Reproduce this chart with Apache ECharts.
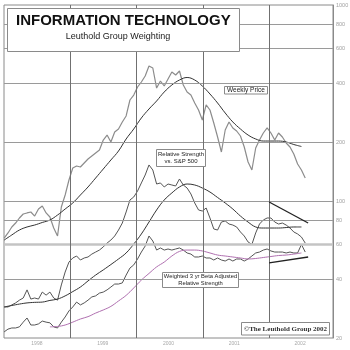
<!DOCTYPE html>
<html><head><meta charset="utf-8">
<script src="https://cdn.jsdelivr.net/npm/echarts@6/dist/echarts.min.js"></script>
<style>html,body{margin:0;padding:0;background:#fff}#c{width:350px;height:350px}</style>
</head><body><div id="c"></div>
<script>
// ---- axis definitions ----
const yearLabels = ['1998', '1999', '2000', '2001', '2002'];
const yearLines = ['1999-01-01', '2000-01-01', '2001-01-01', '2002-01-01'];
const yTickLabels = [1000, 800, 600, 400, 200, 100, 80, 60, 40, 20];
const yGridLines = [800, 600, 400, 200, 100, 80, 40];
const yHeavyLine = [60];

// ---- sampling of the weekly series (every 3 weeks) ----
const weeklyStart = '1998-01-02';
const weeklyStepDays = 21;
// ---- sampling of the moving averages (every 6 weeks) ----
const avgStart = '1998-01-02';
const avgStepDays = 42;

// Weekly price (close)
const priceValues = [64.7, 68.7, 73.7, 77.2, 81.9, 85.8, 86.9, 87.9, 83.8, 91.0,
  94.3, 86.9, 82.9, 72.8, 66.3, 93.2, 107.3, 128.0, 147.4, 150.9,
  149.1, 156.3, 163.8, 169.7, 175.8, 182.0, 204.7, 217.1, 200.0, 224.9,
  233.0, 253.0, 271.5, 327.6, 347.3, 381.6, 404.7, 434.3, 488.4, 477.1,
  377.1, 409.5, 386.1, 419.2, 455.2, 439.4, 460.6, 390.7, 359.8, 347.3,
  316.2, 291.3, 259.0, 309.0, 291.3, 250.0, 212.1, 177.8, 230.3, 253.0,
  235.8, 227.6, 214.6, 188.6, 158.1, 143.9, 186.4, 204.7, 222.3, 235.8,
  222.3, 204.7, 222.3, 212.1, 197.6, 188.6, 173.7, 154.5, 143.9, 131.0];
// 40-week average of price
const priceAvg = [63.2, 67.1, 71.1, 73.7, 75.4, 77.7, 80.0, 84.8, 91.0, 97.7,
  107.3, 117.9, 131.0, 145.6, 161.9, 179.9, 207.2, 233.0, 265.2, 294.7,
  323.8, 359.8, 390.7, 414.3, 426.7, 414.3, 386.1, 351.5, 316.2, 281.2,
  253.0, 233.0, 217.1, 207.2, 202.3, 202.3, 202.3, 200.0, 194.2, 189.7];

// Relative strength vs. S&P 500
const relStrength = [28.8, 28.8, 29.5, 30.2, 31.2, 32.0, 35.2, 31.6, 32.0, 31.6,
  34.3, 33.1, 34.3, 32.0, 31.2, 37.3, 43.4, 48.8, 51.2, 52.4,
  50.0, 51.2, 51.8, 53.6, 54.9, 56.2, 58.3, 61.0, 63.2, 66.3,
  71.1, 77.2, 87.9, 101.2, 104.8, 112.4, 123.6, 135.7, 152.7, 143.9,
  122.1, 123.6, 117.9, 122.1, 120.7, 119.3, 129.5, 120.7, 116.5, 108.6,
  97.7, 90.0, 88.9, 92.1, 81.9, 72.0, 71.1, 78.1, 79.1, 76.3,
  75.4, 73.7, 69.5, 66.3, 61.8, 60.0, 68.7, 76.3, 80.0, 81.9,
  81.9, 78.1, 76.3, 77.2, 75.4, 72.8, 69.5, 67.9, 65.5, 61.0];
const relStrengthAvg = [28.8, 29.3, 29.8, 30.2, 30.4, 30.5, 31.1, 31.6, 32.8, 34.5,
  36.4, 39.1, 41.9, 44.5, 47.4, 50.6, 54.3, 60.3, 67.9, 78.1,
  90.0, 101.2, 109.9, 117.9, 122.1, 120.7, 116.5, 111.1, 104.2, 97.7,
  91.0, 83.8, 78.1, 73.7, 72.8, 72.8, 72.8, 73.2, 73.7, 73.7];

// Weighted 3 yr beta adjusted relative strength
const betaRelStrength = [21.5, 22.2, 22.5, 22.5, 22.8, 24.1, 25.3, 23.3, 23.3, 23.6,
  24.4, 24.1, 23.9, 22.8, 22.5, 24.1, 25.6, 27.5, 28.8, 30.5,
  29.5, 30.2, 31.2, 32.4, 32.8, 33.9, 34.3, 35.2, 36.4, 37.7,
  37.7, 38.2, 41.9, 45.5, 47.2, 50.6, 54.9, 58.9, 66.3, 62.5,
  56.2, 57.6, 56.2, 56.9, 56.2, 56.9, 57.6, 56.2, 54.3, 53.6,
  51.8, 51.8, 52.4, 51.2, 51.2, 50.0, 51.2, 50.0, 49.4, 50.6,
  49.4, 50.6, 50.6, 49.4, 50.6, 52.4, 54.3, 54.9, 56.2, 56.9,
  55.6, 54.9, 54.9, 54.9, 54.3, 54.9, 54.3, 54.3, 60.0, 54.9];
const betaRelStrengthAvg = [null, null, null, null, null, null, 22.8, 22.9, 23.3, 24.1,
  25.0, 25.7, 26.8, 27.8, 29.0, 30.9, 33.0, 36.0, 39.5, 42.7,
  46.1, 48.8, 52.4, 55.3, 56.2, 56.2, 55.6, 54.3, 53.0, 52.4,
  51.8, 51.2, 50.6, 50.9, 51.5, 52.1, 52.7, 53.0, 53.6, 54.3];

// Trend lines drawn in 2002
const trendUpperDates = ['2002-01-01', '2002-08-04'];
const trendUpperValues = [98.8, 77.2];
const trendLowerDates = ['2002-01-01', '2002-08-04'];
const trendLowerValues = [48.3, 51.8];

// ---- build ----
const DAY = 86400000;
const t = s => Date.parse(s + 'T00:00:00Z');
const toSeries = (start, step, vals) => vals.map((v, i) => [t(start) + i * step * DAY, v]);
const pairs = (ds, vs) => ds.map((d, i) => [t(d), vs[i]]);

const chart = echarts.init(document.getElementById('c'), null, {renderer: 'canvas'});

const gridMarks = [];
yGridLines.forEach(v => gridMarks.push({yAxis: v, lineStyle: {color: '#9a9a9a', width: 1, type: 'solid'}}));
yHeavyLine.forEach(v => gridMarks.push({yAxis: v, lineStyle: {color: '#c4c4c4', width: 2.5, type: 'solid'}}));
yearLines.forEach(d => gridMarks.push({xAxis: t(d), lineStyle: {color: '#707070', width: 1, type: 'solid'}}));
const labelMarks = yTickLabels.map(v => ({
  yAxis: v,
  label: {show: true, position: 'end', distance: 3, formatter: String(v), color: '#a0a0a0', fontSize: 5.5, fontFamily: 'Liberation Sans'}
}));

const FONT = '"Liberation Sans", Arial, sans-serif';
function box(x, y, w, h) {
  return {type: 'rect', z: 100, shape: {x: x, y: y, width: w, height: h}, style: {fill: '#fff', stroke: '#8a8a8a', lineWidth: 1}};
}
function txt(x, y, s, font, fill, align) {
  return {type: 'text', z: 101, x: x, y: y, style: {text: s, font: font, fill: fill || '#222',
    align: align || 'center', textAlign: align || 'center', verticalAlign: 'middle', textVerticalAlign: 'middle'}};
}

chart.setOption({
  animation: false,
  backgroundColor: '#fff',
  grid: {left: 4, right: 17, top: 5, bottom: 12, show: true, borderColor: '#8a8a8a', borderWidth: 1, backgroundColor: 'transparent'},
  xAxis: [
    {type: 'time', min: t('1998-01-01'), max: t('2002-12-19'), show: false},
    {type: 'category', data: yearLabels, boundaryGap: true, position: 'bottom',
      axisLine: {show: false}, axisTick: {show: false}, splitLine: {show: false},
      axisLabel: {fontSize: 5, color: '#a8a8a8', margin: 3, fontFamily: 'Liberation Sans'}}
  ],
  yAxis: {type: 'log', logBase: 10, min: 20, max: 1000, position: 'right',
    axisLine: {show: true, lineStyle: {color: '#8a8a8a'}}, axisTick: {show: false},
    axisLabel: {show: false}, splitLine: {show: false}, minorSplitLine: {show: false}},
  series: [
    {type: 'line', name: 'grid', data: [], silent: true,
      markLine: {silent: true, symbol: 'none', animation: false, label: {show: false}, data: gridMarks}},
    {type: 'line', name: 'ticks', data: [], silent: true,
      markLine: {silent: true, symbol: 'none', animation: false,
        lineStyle: {color: 'rgba(255,255,255,0)', width: 1, type: 'solid'}, data: labelMarks}},
    {type: 'line', name: 'Weekly Price', data: toSeries(weeklyStart, weeklyStepDays, priceValues),
      symbol: 'none', lineStyle: {color: '#8c8c8c', width: 1.2}, z: 2},
    {type: 'line', name: 'Price Avg', data: toSeries(avgStart, avgStepDays, priceAvg), smooth: 0.4,
      symbol: 'none', lineStyle: {color: '#333', width: 1}, z: 3},
    {type: 'line', name: 'Relative Strength', data: toSeries(weeklyStart, weeklyStepDays, relStrength),
      symbol: 'none', lineStyle: {color: '#555', width: 1}, z: 3},
    {type: 'line', name: 'RS Avg', data: toSeries(avgStart, avgStepDays, relStrengthAvg), smooth: 0.4,
      symbol: 'none', lineStyle: {color: '#333', width: 1}, z: 3},
    {type: 'line', name: 'Beta RS', data: toSeries(weeklyStart, weeklyStepDays, betaRelStrength),
      symbol: 'none', lineStyle: {color: '#555', width: 1}, z: 3},
    {type: 'line', name: 'Beta RS Avg', data: toSeries(avgStart, avgStepDays, betaRelStrengthAvg), smooth: 0.4,
      symbol: 'none', lineStyle: {color: '#b070b0', width: 1}, z: 4},
    {type: 'line', name: 'Trend upper', data: pairs(trendUpperDates, trendUpperValues),
      symbol: 'none', lineStyle: {color: '#222', width: 1.3}, z: 5},
    {type: 'line', name: 'Trend lower', data: pairs(trendLowerDates, trendLowerValues),
      symbol: 'none', lineStyle: {color: '#222', width: 1.3}, z: 5}
  ],
  graphic: [
    box(7.5, 8.5, 232, 43),
    txt(16, 21, 'INFORMATION TECHNOLOGY', 'bold 15px ' + FONT, '#111', 'left'),
    txt(118, 37, 'Leuthold Group Weighting', '9px ' + FONT, '#222'),
    box(224.5, 86.5, 43, 7.5),
    txt(246, 90.5, 'Weekly Price', '6.5px ' + FONT, '#222'),
    box(156.5, 149.5, 49, 17),
    txt(181, 154, 'Relative Strength', '6px ' + FONT, '#222'),
    txt(181, 161.5, 'vs. S&P 500', '6px ' + FONT, '#222'),
    box(162.5, 272.5, 76, 15),
    txt(200.5, 276.5, 'Weighted 3 yr Beta Adjusted', '5.8px ' + FONT, '#222'),
    txt(200.5, 283.8, 'Relative Strength', '5.8px ' + FONT, '#222'),
    box(241.5, 322.5, 88, 12.5),
    txt(285.5, 329, '\u00A9The Leuthold Group 2002', 'bold 7px "Liberation Serif", "Times New Roman", serif', '#333')
  ]
});
</script></body></html>
